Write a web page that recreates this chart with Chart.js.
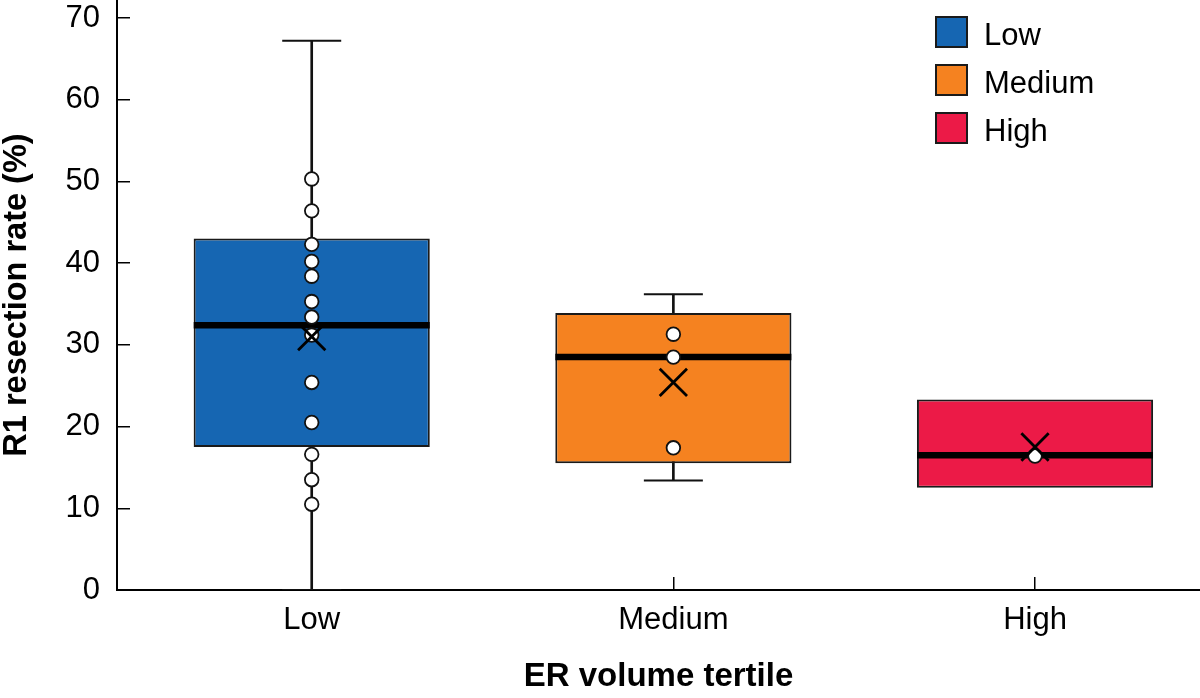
<!DOCTYPE html>
<html>
<head>
<meta charset="utf-8">
<title>R1 resection rate by ER volume tertile</title>
<script src="https://cdn.jsdelivr.net/npm/chart.js"></script>
<style>
  html, body { margin: 0; padding: 0; background: #fff; }
  #wrap { width: 1200px; height: 698px; position: relative; }
</style>
</head>
<body>
<div id="wrap"><canvas id="boxChart"></canvas></div>
<script>
// Tertile categories and box plot summaries (R1 resection rate, %)
const categories = ['Low', 'Medium', 'High'];
const q1Values = [17.5, 15.5, 12.5];
const q3Values = [43.0, 33.9, 23.3];
const medianValues = [32.4, 28.5, 16.5];
const meanValues = [31.0, 25.4, 17.5];
const whiskerLow = [0, 13.4, null];
const whiskerHigh = [67.2, 36.2, null];

// Individual observations per tertile
const lowPoints = [50.3, 46.4, 42.3, 40.2, 38.4, 35.3, 33.4, 31.2, 25.4, 20.5, 16.6, 13.5, 10.5];
const mediumPoints = [31.3, 28.5, 17.4];
const highPoints = [16.4];

const yTicks = [0, 10, 20, 30, 40, 50, 60, 70];

// Styles (kept apart from the data)
const boxColors = ['#1666b2', '#f58220', '#ec1a47'];
const FONT = "'Liberation Sans', Arial, Helvetica, sans-serif";

Chart.defaults.font.family = FONT;
Chart.defaults.color = '#000';

const pointsByGroup = [lowPoints, mediumPoints, highPoints];

// Boxes: one floating bar dataset per tertile so each gets a legend entry
const boxDatasets = categories.map((name, i) => ({
    type: 'bar',
    label: name,
    legendItem: true,
    data: [{ x: i + 1, y: [q1Values[i], q3Values[i]] }],
    backgroundColor: boxColors[i],
    borderColor: '#1a1a1a',
    borderWidth: 2,
    borderSkipped: false,
    grouped: false,
    barPercentage: 0.653,
    categoryPercentage: 1,
    order: 5
}));

// Whisker stems and caps
const whiskerData = [];
const capData = [];
categories.forEach((c, i) => {
    if (whiskerLow[i] === null) return;
    whiskerData.push({ x: i + 1, y: [whiskerLow[i], whiskerHigh[i]] });
    capData.push({ x: i + 1, y: whiskerLow[i] }, { x: i + 1, y: whiskerHigh[i] });
});

const whiskerDataset = {
    type: 'bar',
    data: whiskerData,
    backgroundColor: '#111',
    borderWidth: 0,
    grouped: false,
    barThickness: 2,
    order: 6
};

const capDataset = {
    type: 'scatter',
    data: capData,
    pointStyle: 'line',
    pointRadius: 29.5,
    pointBorderWidth: 2,
    pointBorderColor: '#111',
    order: 4
};

const medianDataset = {
    type: 'scatter',
    data: medianValues.map((v, i) => ({ x: i + 1, y: v })),
    pointStyle: 'line',
    pointRadius: 118,
    pointBorderWidth: 6.5,
    pointBorderColor: '#000',
    order: 3
};

const obsDataset = {
    type: 'scatter',
    data: pointsByGroup.flatMap((pts, i) => pts.map(v => ({ x: i + 1, y: v }))),
    pointStyle: 'circle',
    pointRadius: 6.8,
    pointBackgroundColor: '#fff',
    pointBorderColor: '#111',
    pointBorderWidth: 1.8,
    order: 2
};

const meanDataset = {
    type: 'scatter',
    data: meanValues.map((v, i) => ({ x: i + 1, y: v })),
    pointStyle: 'crossRot',
    pointRadius: 19.3,
    pointBorderWidth: 2.8,
    pointBorderColor: '#000',
    order: 1
};

// Legend drawn inside the plot area, top right
const boxLegend = {
    id: 'boxLegend',
    afterDraw(chart) {
        const ctx = chart.ctx;
        const items = chart.data.datasets.filter(d => d.legendItem);
        ctx.save();
        ctx.font = '31px ' + FONT;
        ctx.textBaseline = 'middle';
        ctx.textAlign = 'left';
        items.forEach((ds, i) => {
            const top = 17 + i * 48;
            ctx.fillStyle = ds.backgroundColor;
            ctx.fillRect(936, top, 31, 30);
            ctx.lineWidth = 2;
            ctx.strokeStyle = '#1a1a1a';
            ctx.strokeRect(936, top, 31, 30);
            ctx.fillStyle = '#000';
            ctx.fillText(ds.label, 984, top + 19);
        });
        ctx.restore();
    }
};

const ctx = document.getElementById('boxChart').getContext('2d');
new Chart(ctx, {
    type: 'bar',
    data: {
        datasets: [whiskerDataset, ...boxDatasets, capDataset, medianDataset, obsDataset, meanDataset]
    },
    options: {
        responsive: true,
        maintainAspectRatio: false,
        animation: false,
        layout: { padding: 0, autoPadding: false },
        plugins: {
            legend: { display: false },
            tooltip: { enabled: false }
        },
        scales: {
            x: {
                type: 'linear',
                min: 0.4616,
                max: 3.4562,
                offset: false,
                bounds: 'data',
                afterBuildTicks: (s) => { s.ticks = categories.map((c, i) => ({ value: i + 1 })); },
                afterFit: (s) => { s.height = 108; s.paddingLeft = 0; s.paddingRight = 0; },
                ticks: {
                    callback: (v) => categories[Math.round(v) - 1],
                    font: { size: 31 },
                    color: '#000',
                    padding: 25,
                    maxRotation: 0,
                    autoSkip: false
                },
                grid: { offset: false, drawOnChartArea: false, drawTicks: true, tickLength: -13, color: '#000', lineWidth: 1.5 },
                border: { color: '#000', width: 2 },
                title: {
                    display: true,
                    text: 'ER volume tertile',
                    font: { size: 33, weight: 'bold' },
                    color: '#000',
                    padding: { top: 0, bottom: 1 }
                }
            },
            y: {
                type: 'linear',
                min: 0,
                max: 72.2,
                bounds: 'data',
                afterBuildTicks: (s) => { s.ticks = yTicks.map(v => ({ value: v })); },
                afterFit: (s) => { s.width = 117; s.paddingTop = 0; s.paddingBottom = 0; },
                ticks: { font: { size: 31 }, color: '#000', padding: 30 },
                grid: { drawOnChartArea: false, drawTicks: true, tickLength: -13, color: '#000', lineWidth: 1.5 },
                border: { color: '#000', width: 2 },
                title: {
                    display: true,
                    text: 'R1 resection rate (%)',
                    font: { size: 32.5, weight: 'bold' },
                    color: '#000',
                    padding: { top: -2, bottom: 0 }
                }
            }
        }
    },
    plugins: [boxLegend]
});
</script>
</body>
</html>
